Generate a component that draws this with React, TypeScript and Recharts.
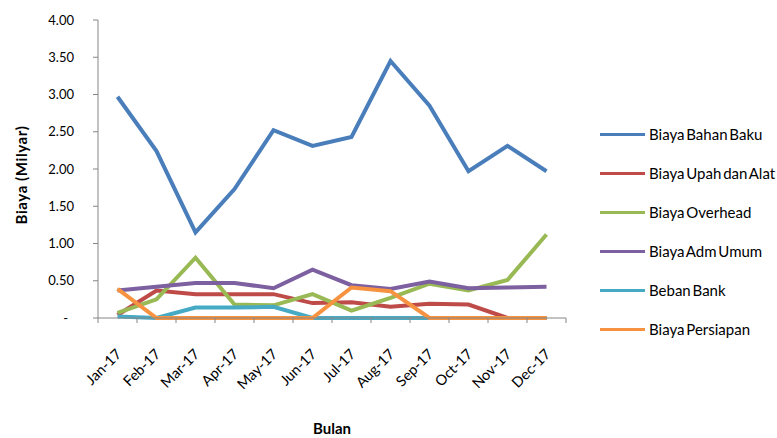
import { LineChart, Line, XAxis, YAxis, Label } from 'recharts'

const months = ['Jan-17', 'Feb-17', 'Mar-17', 'Apr-17', 'May-17', 'Jun-17', 'Jul-17', 'Aug-17', 'Sep-17', 'Oct-17', 'Nov-17', 'Dec-17']

// biaya per bulan, dalam milyar rupiah
const bahanBaku = [2.97, 2.24, 1.15, 1.73, 2.52, 2.31, 2.43, 3.45, 2.85, 1.97, 2.31, 1.97]
const upahAlat = [0.04, 0.37, 0.32, 0.32, 0.32, 0.2, 0.21, 0.15, 0.19, 0.18, 0, 0]
const overhead = [0.07, 0.25, 0.81, 0.18, 0.17, 0.32, 0.1, 0.27, 0.46, 0.37, 0.51, 1.12]
const admUmum = [0.37, 0.42, 0.47, 0.47, 0.4, 0.65, 0.44, 0.39, 0.49, 0.4, 0.41, 0.42]
const bebanBank = [0.02, 0, 0.14, 0.14, 0.15, 0, 0, 0, 0, 0, 0, 0]
const persiapan = [0.39, 0, 0, 0, 0, 0, 0.41, 0.36, 0, 0, 0, 0]

const yTicks = [0, 0.5, 1, 1.5, 2, 2.5, 3, 3.5, 4]

const series = [
  { key: 'bahanBaku', name: 'Biaya Bahan Baku', color: '#4A7EBB', values: bahanBaku },
  { key: 'upahAlat', name: 'Biaya Upah dan Alat', color: '#BE4B48', values: upahAlat },
  { key: 'overhead', name: 'Biaya Overhead', color: '#98B954', values: overhead },
  { key: 'admUmum', name: 'Biaya Adm Umum', color: '#7D60A0', values: admUmum },
  { key: 'bebanBank', name: 'Beban Bank', color: '#46AAC5', values: bebanBank },
  { key: 'persiapan', name: 'Biaya Persiapan', color: '#F69240', values: persiapan },
]

const data = months.map((m, i) => {
  const row: Record<string, number | string> = { idx: i, month: m }
  series.forEach((s) => (row[s.key] = s.values[i]))
  return row
})

const W = 777
const H = 438
const margin = { top: 20, right: 211, bottom: 0, left: 10 }
const yAxisWidth = 88
const plotW = W - margin.left - margin.right - yAxisWidth
const halfBand = plotW / months.length / 2
const boundaries = [...months.map((_, i) => i - 0.5), months.length - 0.5]

const font = 'Lato, "Open Sans", sans-serif'
const axisColor = '#868686'

function MonthTick({ x, y, payload }: any) {
  const i = payload.value + 0.5
  if (i >= months.length) return null
  const cx = x + halfBand + 5
  const cy = y + 30
  return (
    <text x={cx} y={cy} transform={`rotate(-45 ${cx} ${cy})`} textAnchor="end" fontSize={14.5} fill="#000" fontFamily={font}>
      {months[i]}
    </text>
  )
}

function ValueTick({ x, y, payload }: any) {
  const v = payload.value
  const label = v === 0 ? '-' : v.toFixed(2)
  return (
    <text x={v === 0 ? x - 6 : x} y={y} dy={4.5} textAnchor="end" fontSize={13} fill="#000" fontFamily={font}>
      {label}
    </text>
  )
}

function YTitle() {
  return (
    <text x={27} y={175} transform="rotate(-90 27 175)" textAnchor="middle" fontSize={15} fontWeight="bold" letterSpacing={0.6} fill="#000" fontFamily={font}>
      Biaya (Milyar)
    </text>
  )
}

function SideLegend() {
  return (
    <div style={{ position: 'absolute', left: 600, top: 114.5, fontFamily: font, fontSize: 15, wordSpacing: -2 }}>
      {series.map((s) => (
        <div key={s.key} style={{ display: 'flex', alignItems: 'center', height: 39, whiteSpace: 'nowrap' }}>
          <div style={{ width: 45, height: 3, background: s.color, marginRight: 4 }} />
          <span>{s.name}</span>
        </div>
      ))}
    </div>
  )
}

export default function App() {
  return (
    <div style={{ position: 'absolute', left: 0, top: 0, width: W, height: H, background: '#fff', overflow: 'hidden' }}>
      <LineChart width={W} height={H} data={data} margin={margin}>
        <XAxis
          type="number"
          dataKey="idx"
          domain={[-0.5, months.length - 0.5]}
          ticks={boundaries}
          interval={0}
          height={120}
          stroke={axisColor}
          tickSize={5}
          tick={<MonthTick />}
        >
          <Label value="Bulan" position="insideBottom" offset={4} fontSize={15} fontWeight="bold" fill="#000" fontFamily={font} />
        </XAxis>
        <YAxis
          domain={[0, 4]}
          ticks={yTicks}
          width={yAxisWidth}
          stroke={axisColor}
          tickSize={5}
          tickMargin={19}
          tick={<ValueTick />}
        >
          <Label content={<YTitle />} />
        </YAxis>
        {series.map((s) => (
          <Line
            key={s.key}
            type="linear"
            dataKey={s.key}
            name={s.name}
            stroke={s.color}
            strokeWidth={4}
            dot={false}
            isAnimationActive={false}
          />
        ))}
      </LineChart>
      <SideLegend />
    </div>
  )
}
